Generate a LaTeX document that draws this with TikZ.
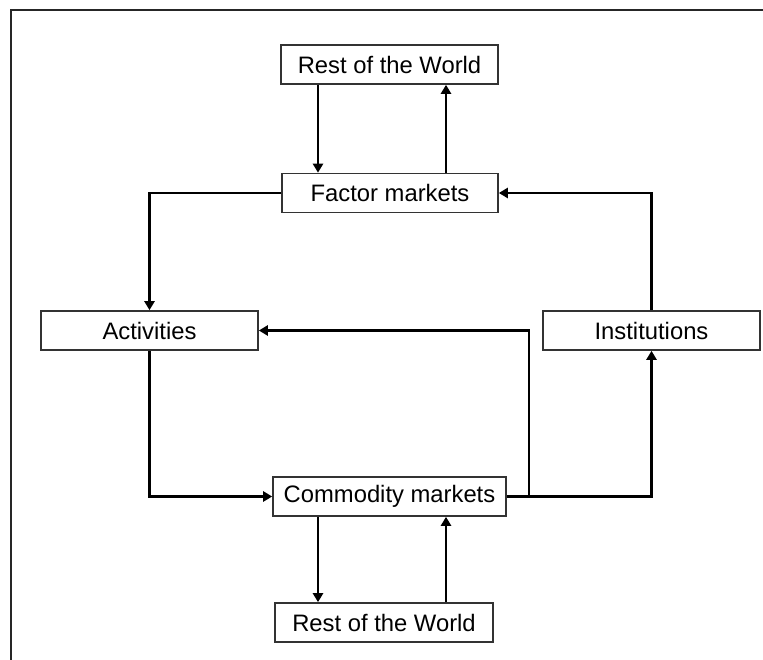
\documentclass[tikz,border=0pt]{standalone}
\usepackage{fontspec}
\setmainfont{Liberation Sans}
\usetikzlibrary{arrows.meta}
\begin{document}
\begin{tikzpicture}[x=1pt,y=-1pt,
  box/.style={draw=black!80, line width=1.6pt, minimum height=39pt, inner sep=0pt,
              fill=white, font=\fontsize{23.8}{28}\selectfont},
  flow/.style={line width=2.6pt, -{Triangle[length=9pt,width=10pt]}},
  link/.style={line width=2.6pt}]
\useasboundingbox (0,0) rectangle (763,660);

% frame along the top and left edges
\draw[line width=2.6pt, black!85] (11,660) -- (11,10) -- (763,10);

% accounts
\node[box, minimum width=217pt] (rowT) at (389.5,64.5) {Rest of the World};
\node[box, minimum width=216pt] (fac)  at (390,193)    {Factor markets};
\node[box, minimum width=217pt] (act)  at (149.5,330.5){Activities};
\node[box, minimum width=217pt] (inst) at (651.5,330.5){Institutions};
\node[box, minimum width=233pt] (com)  at (389.5,496.5){Commodity markets};
\node[box, minimum width=218pt] (rowB) at (384,622.5)  {Rest of the World};

% helper positions for the vertical links
\coordinate (xl) at (318,0);
\coordinate (xr) at (446,0);
\coordinate (j)  at (529,496.5);

% flows between the rest of the world and the markets
\draw[flow] (rowT.south -| xl) -- (fac.north -| xl);
\draw[flow] (fac.north -| xr) -- (rowT.south -| xr);
\draw[flow] (com.south -| xl) -- (rowB.north -| xl);
\draw[flow] (rowB.north -| xr) -- (com.south -| xr);

% circular flow
\draw[flow] (fac.west) -| (act.north);
\draw[flow] (inst.north) |- (fac.east);
\draw[flow] (act.south) |- (com.west);
\draw[link] (com.east) -- (j);
\draw[flow] (j) |- (act.east);
\draw[flow] (j) -| (inst.south);
\end{tikzpicture}
\end{document}
